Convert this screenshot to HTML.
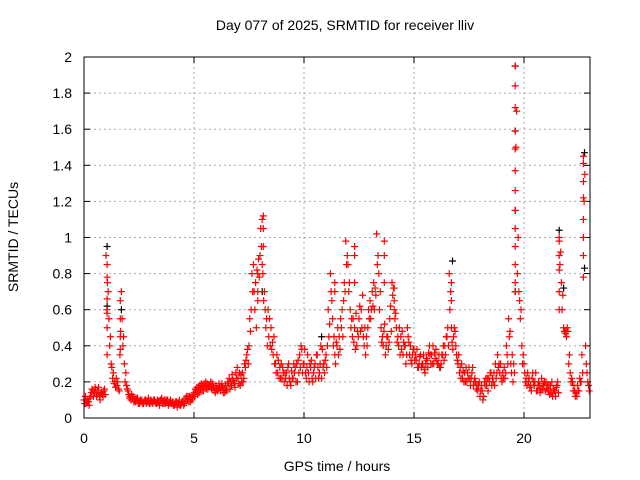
<!DOCTYPE html>
<html><head><meta charset="utf-8"><style>
body{margin:0;background:#fff}
svg{display:block;font-family:"Liberation Sans",sans-serif}
</style></head><body>
<svg id="c" width="640" height="480">
<rect width="640" height="480" fill="#fff"/>
<text x="345" y="30" font-size="14" text-anchor="middle">Day 077 of 2025, SRMTID for receiver lliv</text>
<text x="18" y="237" font-size="14" text-anchor="middle" transform="rotate(-90 18 237)">SRMTID / TECUs</text>
<text x="337" y="471" font-size="14" text-anchor="middle">GPS time / hours</text>
<g id="grid"></g>
<g id="ticks"></g>
<g id="blk"></g>
<g id="red"></g>
<rect x="84" y="57" width="506" height="361" fill="none" stroke="#000"/>
</svg>
<script>
const xTicks=[0,5,10,15,20];
const yTicks=[0,0.2,0.4,0.6,0.8,1,1.2,1.4,1.6,1.8,2];
const yTickLabels=["0","0.2","0.4","0.6","0.8","1","1.2","1.4","1.6","1.8","2"];
const baseStep=0.1;
const redValues=[
0.10,0.08,0.09,0.12,0.15,0.17,0.13,0.12,0.14,0.15,
0.90,0.70,0.45,0.22,0.20,0.18,0.15,0.70,0.45,0.25,
0.15,0.12,0.11,0.10,0.10,0.09,0.09,0.08,0.10,0.09,
0.08,0.09,0.10,0.08,0.09,0.10,0.09,0.08,0.10,0.09,
0.08,0.07,0.09,0.08,0.07,0.09,0.11,0.10,0.12,0.10,
0.14,0.15,0.17,0.16,0.18,0.17,0.19,0.18,0.16,0.17,
0.18,0.16,0.15,0.17,0.14,0.16,0.22,0.18,0.20,0.25,
0.22,0.18,0.25,0.30,0.35,0.40,0.60,0.85,0.75,0.65,
0.90,1.10,0.70,0.55,0.45,0.50,0.35,0.30,0.25,0.28,
0.22,0.20,0.25,0.30,0.18,0.22,0.28,0.20,0.35,0.38,
0.30,0.22,0.25,0.28,0.20,0.30,0.35,0.25,0.22,0.30,
0.35,0.60,0.80,0.55,0.35,0.40,0.45,0.50,0.65,0.98,
0.85,0.60,0.45,0.50,0.40,0.55,0.60,0.45,0.35,0.50,
0.65,0.70,0.60,1.02,0.80,0.50,0.40,0.35,0.45,0.55,
0.75,0.65,0.50,0.40,0.45,0.35,0.40,0.50,0.35,0.30,
0.38,0.32,0.28,0.35,0.30,0.25,0.32,0.40,0.35,0.30,
0.38,0.30,0.28,0.35,0.40,0.45,0.80,0.50,0.45,0.40,
0.30,0.28,0.22,0.25,0.20,0.28,0.22,0.18,0.20,0.15,
0.12,0.15,0.20,0.18,0.22,0.25,0.20,0.30,0.35,0.25,
0.20,0.28,0.40,0.55,0.30,0.20,1.95,0.80,0.65,0.40,
0.30,0.22,0.20,0.18,0.25,0.20,0.15,0.18,0.22,0.18,
0.20,0.15,0.18,0.12,0.15,0.18,1.00,0.75,0.50,0.48,
0.48,0.25,0.20,0.15,0.12,0.15,0.20,1.45,0.40,0.20];
const redValues2=[
0.08,0.10,0.07,0.14,0.12,0.16,0.15,0.10,0.13,0.16,
0.60,0.55,0.30,0.25,0.17,0.20,0.35,0.55,0.30,0.18,
0.13,0.10,0.12,0.09,0.11,0.08,0.10,0.09,0.08,0.11,
0.10,0.08,0.09,0.10,0.07,0.11,0.08,0.10,0.07,0.10,
0.09,0.08,0.06,0.10,0.08,0.07,0.10,0.12,0.09,0.11,
0.12,0.17,0.14,0.19,0.15,0.20,0.16,0.17,0.19,0.15,
0.16,0.19,0.17,0.14,0.18,0.20,0.16,0.24,0.19,0.22,
0.19,0.24,0.20,0.28,0.38,0.55,0.80,0.70,0.50,0.88,
1.05,0.80,0.60,0.40,0.55,0.38,0.45,0.25,0.32,0.22,
0.28,0.25,0.18,0.22,0.26,0.30,0.20,0.32,0.28,0.25,
0.38,0.28,0.20,0.32,0.25,0.22,0.28,0.30,0.38,0.25,
0.28,0.45,0.70,0.40,0.30,0.50,0.38,0.60,0.75,0.85,
0.70,0.50,0.55,0.38,0.48,0.62,0.50,0.40,0.45,0.60,
0.55,0.62,0.72,0.85,0.60,0.42,0.48,0.40,0.38,0.62,
0.68,0.55,0.42,0.50,0.38,0.42,0.30,0.45,0.40,0.35,
0.32,0.38,0.30,0.28,0.35,0.30,0.28,0.35,0.30,0.36,
0.32,0.35,0.30,0.40,0.35,0.50,0.60,0.42,0.50,0.35,
0.35,0.22,0.26,0.20,0.25,0.22,0.25,0.20,0.16,0.18,
0.15,0.10,0.18,0.22,0.20,0.18,0.25,0.22,0.28,0.30,
0.25,0.22,0.35,0.45,0.25,0.30,1.50,1.00,0.55,0.30,
0.25,0.18,0.22,0.15,0.20,0.25,0.18,0.14,0.16,0.20,
0.16,0.18,0.14,0.16,0.12,0.20,0.85,0.60,0.48,0.45,
0.30,0.20,0.15,0.12,0.18,0.22,0.35,1.20,0.30,0.18];
const redValues3=[
0.12,0.09,0.11,0.16,0.14,0.12,0.17,0.14,0.12,0.13,
0.75,0.40,0.28,0.19,0.22,0.16,0.48,0.40,0.20,0.16,
0.11,0.13,0.09,0.11,0.08,0.10,0.08,0.10,0.09,0.08,
0.09,0.10,0.08,0.09,0.10,0.08,0.10,0.09,0.08,0.08,
0.07,0.09,0.08,0.07,0.09,0.08,0.12,0.09,0.11,0.13,
0.16,0.13,0.18,0.15,0.19,0.16,0.18,0.20,0.17,0.14,
0.15,0.17,0.19,0.16,0.15,0.19,0.20,0.21,0.17,0.28,
0.25,0.20,0.22,0.32,0.30,0.48,0.70,0.60,0.82,0.78,
0.95,0.65,0.50,0.60,0.40,0.42,0.30,0.35,0.22,0.30,
0.25,0.22,0.28,0.20,0.22,0.25,0.30,0.25,0.40,0.30,
0.25,0.35,0.30,0.22,0.28,0.35,0.22,0.40,0.28,0.32,
0.40,0.52,0.65,0.45,0.42,0.35,0.55,0.45,0.70,0.90,
0.75,0.55,0.42,0.58,0.45,0.48,0.68,0.50,0.40,0.55,
0.60,0.75,0.68,0.90,0.70,0.45,0.52,0.45,0.42,0.48,
0.72,0.58,0.45,0.35,0.48,0.40,0.35,0.42,0.32,0.38,
0.35,0.28,0.34,0.30,0.27,0.33,0.36,0.30,0.40,0.33,
0.30,0.28,0.35,0.32,0.45,0.40,0.70,0.38,0.48,0.32,
0.25,0.30,0.20,0.28,0.22,0.18,0.28,0.22,0.18,0.20,
0.18,0.12,0.22,0.15,0.25,0.22,0.18,0.25,0.30,0.22,
0.22,0.25,0.30,0.48,0.35,0.25,1.70,0.70,0.60,0.35,
0.20,0.25,0.17,0.22,0.18,0.15,0.20,0.16,0.19,0.15,
0.18,0.13,0.20,0.15,0.17,0.14,0.92,0.68,0.47,0.50,
0.35,0.22,0.18,0.14,0.15,0.20,0.25,1.35,0.25,0.15];
const spikeTimes=[1.05,1.05,1.05,1.05,1.05,1.05,1.65,1.65,1.65,1.65,8.15,8.15,8.15,8.1,7.9,7.9,12.3,12.3,12.3,13.65,13.65,13.65,16.7,16.7,19.6,19.6,19.6,19.6,19.6,19.6,19.6,19.6,19.6,19.6,19.6,19.6,21.6,21.6,21.6,21.6,21.6,22.7,22.7,22.7,22.7,22.7,22.7,22.7,14.1,14.1,11.4,11.4];
const spikeValues=[0.85,0.78,0.66,0.58,0.50,0.35,0.65,0.55,0.45,0.38,1.12,1.05,0.95,0.85,0.80,0.70,0.95,0.90,0.75,0.98,0.90,0.75,0.75,0.65,1.84,1.72,1.59,1.49,1.37,1.26,1.15,1.05,0.95,0.85,0.75,0.70,0.98,0.90,0.82,0.70,0.60,1.41,1.31,1.22,1.10,1.00,0.90,0.78,0.72,0.60,0.75,0.70];
const blackTimes=[1.05,1.05,1.7,8.1,16.75,19.6,19.6,19.6,19.6,21.6,21.8,22.75,22.75,10.8];
const blackValues=[0.95,0.62,0.60,0.70,0.87,1.95,1.59,1.15,0.70,1.04,0.72,1.47,0.83,0.45];
const X=t=>84+t*22, Y=v=>418-v*180.5;
const NS="http://www.w3.org/2000/svg";
function mk(tag,at,par){const e=document.createElementNS(NS,tag);for(const k in at)e.setAttribute(k,at[k]);document.getElementById(par).appendChild(e);return e;}
xTicks.forEach(t=>{
 const l=mk('line',{x1:X(t),x2:X(t),y1:57,y2:418,stroke:'#aaa','stroke-dasharray':'2,3'},'grid');
 
 
 const tk=mk('text',{x:X(t),y:443,'font-size':14,'text-anchor':'middle'},'ticks');tk.textContent=t;
 
 
 mk('line',{x1:X(t),x2:X(t),y1:418,y2:412,stroke:'#000'},'ticks');
 mk('line',{x1:X(t),x2:X(t),y1:57,y2:63,stroke:'#000'},'ticks');
});
yTicks.forEach((v,i)=>{
 const l=mk('line',{x1:84,x2:590,y1:Y(v),y2:Y(v),stroke:'#aaa','stroke-dasharray':'2,3'},'grid');
 
 
 const tk=mk('text',{x:72,y:Y(v)+5,'font-size':14,'text-anchor':'end'},'ticks');tk.textContent=yTickLabels[i];
 
 
 mk('line',{x1:84,x2:90,y1:Y(v),y2:Y(v),stroke:'#000'},'ticks');
 mk('line',{x1:584,x2:590,y1:Y(v),y2:Y(v),stroke:'#000'},'ticks');
});
function plus(t,v,col,g,name){
 const x=X(t),y=Y(v);
 const p=mk('path',{d:`M${x-3.5} ${y}H${x+3.5}M${x} ${y-3.5}V${y+3.5}`,stroke:col,'stroke-width':1.2,fill:'none'},g);
 
 
}
blackTimes.forEach((t,i)=>plus(t,blackValues[i],'#000','blk','black-point'));
redValues.forEach((v,i)=>plus(i*baseStep,v,'#f00','red','red-point'));
redValues2.forEach((v,i)=>plus(i*baseStep+0.033,v,'#f00','red','red-point'));
redValues3.forEach((v,i)=>plus(i*baseStep+0.066,v,'#f00','red','red-point'));
spikeTimes.forEach((t,i)=>plus(t,spikeValues[i],'#f00','red','red-point'));
</script>
</body></html>
